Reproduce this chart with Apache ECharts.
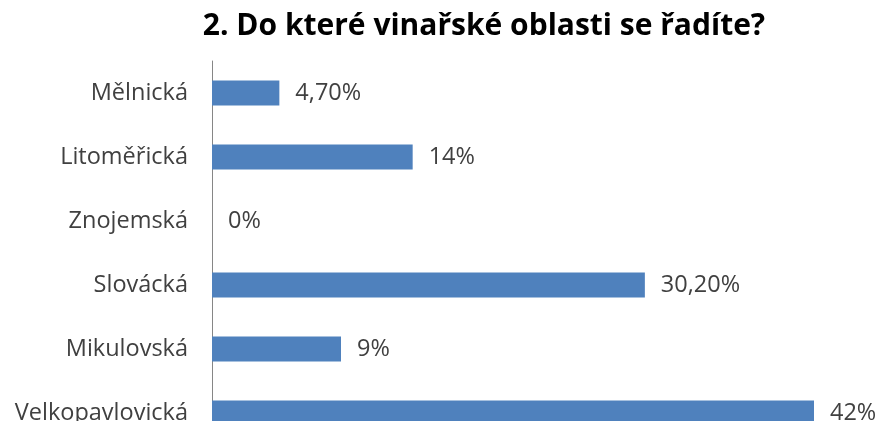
<!DOCTYPE html>
<html>
<head>
<meta charset="utf-8">
<style>
  html, body { margin: 0; padding: 0; background: #fff; }
  #chart { width: 878px; height: 421px; }
</style>
<script src="https://cdn.jsdelivr.net/npm/echarts@6/dist/echarts.min.js"></script>
</head>
<body>
<div id="chart"></div>
<script>
// Wine regions and share of respondents (%)
const regions = ['Mělnická', 'Litoměřická', 'Znojemská', 'Slovácká', 'Mikulovská', 'Velkopavlovická'];
const shares = [4.7, 14, 0, 30.2, 9, 42];

// Czech number style: integers without decimals, others with two decimals and a comma
function formatShare(v) {
  if (Number.isInteger(v)) return v + '%';
  return v.toFixed(2).replace('.', ',') + '%';
}

const chart = echarts.init(document.getElementById('chart'), null, { renderer: 'canvas' });
chart.setOption({
  animation: false,
  backgroundColor: '#ffffff',
  title: {
    text: '2. Do které vinařské oblasti se řadíte?',
    left: 479,
    top: 6,
    textAlign: 'center',
    textStyle: {
      fontFamily: 'Open Sans',
      fontWeight: 'bold',
      fontSize: 30,
      color: '#000000'
    }
  },
  grid: {
    left: 212,
    top: 61,
    width: 645,
    height: 384,
    containLabel: false,
    outerBoundsMode: 'none'
  },
  xAxis: {
    type: 'value',
    min: 0,
    max: 45,
    show: false
  },
  yAxis: {
    type: 'category',
    inverse: true,
    data: regions,
    axisLine: { show: true, lineStyle: { color: '#868686', width: 1 } },
    axisTick: { show: false },
    axisLabel: {
      margin: 24,
      fontFamily: 'Open Sans',
      fontSize: 23.5,
      color: '#404040'
    },
    splitLine: { show: false }
  },
  series: [{
    type: 'bar',
    data: shares,
    barWidth: 25,
    itemStyle: { color: '#4F81BD' },
    label: {
      show: true,
      position: 'right',
      distance: 16,
      formatter: p => formatShare(p.value),
      fontFamily: 'Open Sans',
      fontSize: 23.5,
      color: '#404040'
    }
  }]
});
</script>
</body>
</html>
